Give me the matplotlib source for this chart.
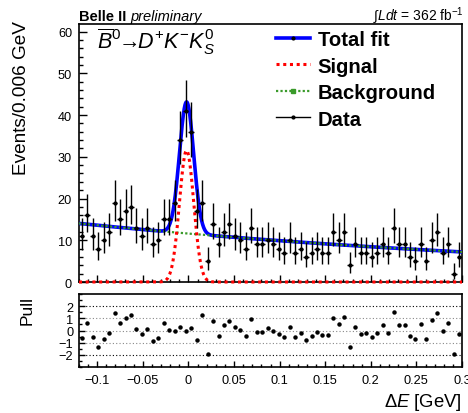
import math
import numpy as np
import matplotlib
matplotlib.use('Agg')
import matplotlib.pyplot as plt
from matplotlib.ticker import MultipleLocator
from matplotlib.lines import Line2D

plt.rcParams['font.family'] = ['Liberation Sans', 'DejaVu Sans']
plt.rcParams['mathtext.fontset'] = 'custom'
plt.rcParams['mathtext.rm'] = 'Liberation Sans'
plt.rcParams['mathtext.it'] = 'Liberation Sans:italic'
plt.rcParams['mathtext.bf'] = 'Liberation Sans:bold'

# ---------------- data ----------------
x_lo, x_hi = -0.12, 0.30
bin_width = 0.006
counts = [11, 16, 11, 8, 10, 12, 19, 15, 17, 18,
          13, 11, 13, 9, 10, 15, 15, 19, 34, 41,
          36, 17, 19, 5, 14, 9, 12, 14, 11, 10,
          8, 13, 9, 9, 10, 9, 8, 7, 10, 7,
          8, 6, 7, 8, 7, 7, 12, 10, 12, 4,
          9, 7, 7, 6, 7, 9, 7, 13, 9, 9,
          6, 5, 9, 5, 10, 12, 7, 9, 2, 6]
pulls = [-0.6, 0.6, -0.54, -1.35, -0.73, -0.2, 1.4, 0.6, 1.05, 1.3,
         0.14, -0.32, 0.14, -0.86, -0.6, 0.62, 0.05, -0.08, 0.3, -0.08,
         0.19, -0.8, 1.24, -1.92, 0.81, -0.43, 0.43, 0.76, 0.27, 0.03,
         -0.43, 0.92, -0.1, -0.1, 0.19, -0.08, -0.3, -0.57, 0.32, -0.51,
         -0.22, -0.76, -0.43, -0.16, -0.38, -0.38, 1.05, 0.54, 1.1, -1.32,
         0.32, -0.27, -0.24, -0.54, -0.22, 0.43, -0.19, 1.49, 0.49, 0.49,
         -0.43, -0.7, 0.54, -0.7, 0.86, 1.4, -0.08, 0.6, -1.95, -0.3]

# fit model parameters
sig_amp = 31.5
sig_mean = -0.002
sig_sigma = 0.0078
bkg_at0 = 11.6
bkg_slope = 1.59

y_max = 61.8
pull_lim = 3.0
x_ticklabels = ['\u22120.1', '\u22120.05', '0', '0.05', '0.1', '0.15', '0.2', '0.25', '0.3']
x_tickvals = [-0.1, -0.05, 0, 0.05, 0.1, 0.15, 0.2, 0.25, 0.3]
pull_tickvals = [-2, -1, 0, 1, 2]
pull_ticklabels = ['\u22122', '\u22121', '0', '1', '2']

# ---------------- helpers ----------------
def pois_cdf(n, lam):
    if n < 0:
        return 0.0
    term = math.exp(-lam)
    s = term
    for k in range(1, n + 1):
        term *= lam / k
        s += term
    return s

def garwood(n, cl=0.682689):
    a = (1 - cl) / 2
    def solve(f, lo, hi):
        for _ in range(80):
            mid = 0.5 * (lo + hi)
            if f(mid) > 0:
                lo = mid
            else:
                hi = mid
        return 0.5 * (lo + hi)
    hi_b = n + 10 * math.sqrt(n + 1) + 10
    low = 0.0 if n == 0 else solve(lambda l: pois_cdf(n - 1, l) - (1 - a), 0.0, hi_b)
    up = solve(lambda l: pois_cdf(n, l) - a, 0.0, hi_b)
    return n - low, up - n

counts_arr = np.array(counts, dtype=float)
nb = len(counts)
centers = x_lo + bin_width * (np.arange(nb) + 0.5)
errs = np.array([garwood(int(c)) for c in counts])
yerr = np.vstack([errs[:, 0], errs[:, 1]])

xf = np.linspace(x_lo, x_hi, 1500)
sig_curve = sig_amp * np.exp(-0.5 * ((xf - sig_mean) / sig_sigma) ** 2)
bkg_curve = bkg_at0 * np.exp(-bkg_slope * xf)
tot_curve = sig_curve + bkg_curve

# ---------------- figure ----------------
W, H = 468, 414
fig = plt.figure(figsize=(W / 100, H / 100), dpi=100)

def ax_rect(l, t, r, b):
    return [l / W, 1 - b / H, (r - l) / W, (b - t) / H]

ax = fig.add_axes(ax_rect(79, 25, 462, 283))
ax2 = fig.add_axes(ax_rect(79, 295, 462, 368))

blue = '#0000ff'
red = '#ff0000'
green = '#3a9a2a'

ax.plot(xf, tot_curve, color=blue, lw=2.6, zorder=3, solid_capstyle='butt')
ax.plot(xf, bkg_curve, color=green, lw=1.6, ls=(0, (1, 1)), zorder=4)
ax.plot(xf, sig_curve, color=red, lw=2.2, ls=(0, (1, 1.2)), zorder=5, clip_on=False)
ax.errorbar(centers, counts_arr, yerr=yerr, xerr=bin_width / 2, fmt='o', ms=2.0,
            color='black', ecolor='black', elinewidth=1.0, capsize=0, zorder=6)

ax.set_xlim(x_lo, x_hi)
ax.set_ylim(0, y_max)
ax.yaxis.set_major_locator(MultipleLocator(10))
ax.yaxis.set_minor_locator(MultipleLocator(2))
ax.xaxis.set_major_locator(MultipleLocator(0.05))
ax.xaxis.set_minor_locator(MultipleLocator(0.01))
ax.tick_params(axis='both', which='both', direction='in', top=False, right=False,
               labelsize=9.2, width=1.0)
ax.tick_params(axis='y', which='major', length=6, pad=5)
ax.tick_params(axis='y', which='minor', length=3)
ax.tick_params(axis='x', which='major', length=5, labelbottom=False)
ax.tick_params(axis='x', which='minor', length=2.5)
for s in ax.spines.values():
    s.set_linewidth(1.2)

# legend
handles = [
    Line2D([], [], color=blue, lw=2.6, marker='o', ms=2, mfc='k', mec='k'),
    Line2D([], [], color=red, lw=2.2, ls=(0, (1, 1.2))),
    Line2D([], [], color=green, lw=1.6, ls=(0, (1, 1)), marker='s', ms=2.5, mfc=green, mec=green),
    Line2D([], [], color='black', lw=1.0, marker='o', ms=2, mfc='k', mec='k'),
]
labels = ['Total fit', 'Signal', 'Background', 'Data']
leg = ax.legend(handles, labels, loc='upper left', bbox_to_anchor=((276 - 79) / 383, (283 - 31) / 258),
                frameon=False, borderpad=0, borderaxespad=0, handlelength=1.7,
                handletextpad=0.35, labelspacing=0.37, numpoints=1,
                prop={'family': 'Liberation Sans', 'weight': 'bold', 'size': 14.6})

# pull panel
ax2.plot(centers, pulls, 'o', ms=2.2, color='black', zorder=5)
for lv in pull_tickvals:
    if abs(lv) == 2:
        ax2.axhline(lv, color='black', lw=0.8, ls=(0, (1, 2)), zorder=1)
    else:
        ax2.axhline(lv, color='#888888', lw=0.8, ls=(0, (1, 2)), zorder=1)
ax2.set_xlim(x_lo, x_hi)
ax2.set_ylim(-pull_lim, pull_lim)
ax2.set_xticks(x_tickvals)
ax2.set_xticklabels(x_ticklabels)
ax2.xaxis.set_minor_locator(MultipleLocator(0.01))
ax2.set_yticks(pull_tickvals)
ax2.set_yticklabels(pull_ticklabels)
ax2.yaxis.set_minor_locator(MultipleLocator(0.5))
ax2.tick_params(axis='both', which='both', direction='in', top=False, right=False,
                labelsize=9.2, width=1.0)
ax2.tick_params(axis='x', which='major', length=4, pad=5)
ax2.tick_params(axis='x', which='minor', length=2)
ax2.tick_params(axis='y', which='major', length=4, pad=4)
ax2.tick_params(axis='y', which='minor', length=2)
for s in ax2.spines.values():
    s.set_linewidth(1.2)

# texts
fig.text(22 / W, 1 - 21 / H, 'Events/0.006 GeV', rotation=90, ha='center', va='top', fontsize=13.7)
fig.text(27 / W, 1 - 296 / H, 'Pull', rotation=90, ha='center', va='top', fontsize=12.5)
fig.text(462 / W, 1 - 392 / H, r'$\Delta E$ [GeV]', ha='right', va='top', fontsize=13.3)

t1 = fig.text(79 / W, 1 - 21 / H, 'Belle II', ha='left', va='baseline', fontsize=10.5, fontweight='bold')
ax.annotate('preliminary', xy=(1, 0), xycoords=t1, xytext=(3, 0), textcoords='offset points',
            ha='left', va='bottom', fontsize=10.5, fontstyle='italic', annotation_clip=False)
fig.text(464 / W, 1 - 21 / H, r'$\int L dt$ = 362 fb$^{-1}$', ha='right', va='baseline', fontsize=10)
fig.text(97 / W, 1 - 49 / H, r'$\overline{B}^{0}\!\!\rightarrow\!\! D^{+}K^{-}K^{0}_{S}$', ha='left',
         va='baseline', fontsize=15.5)

fig.savefig('out.png', dpi=100)
